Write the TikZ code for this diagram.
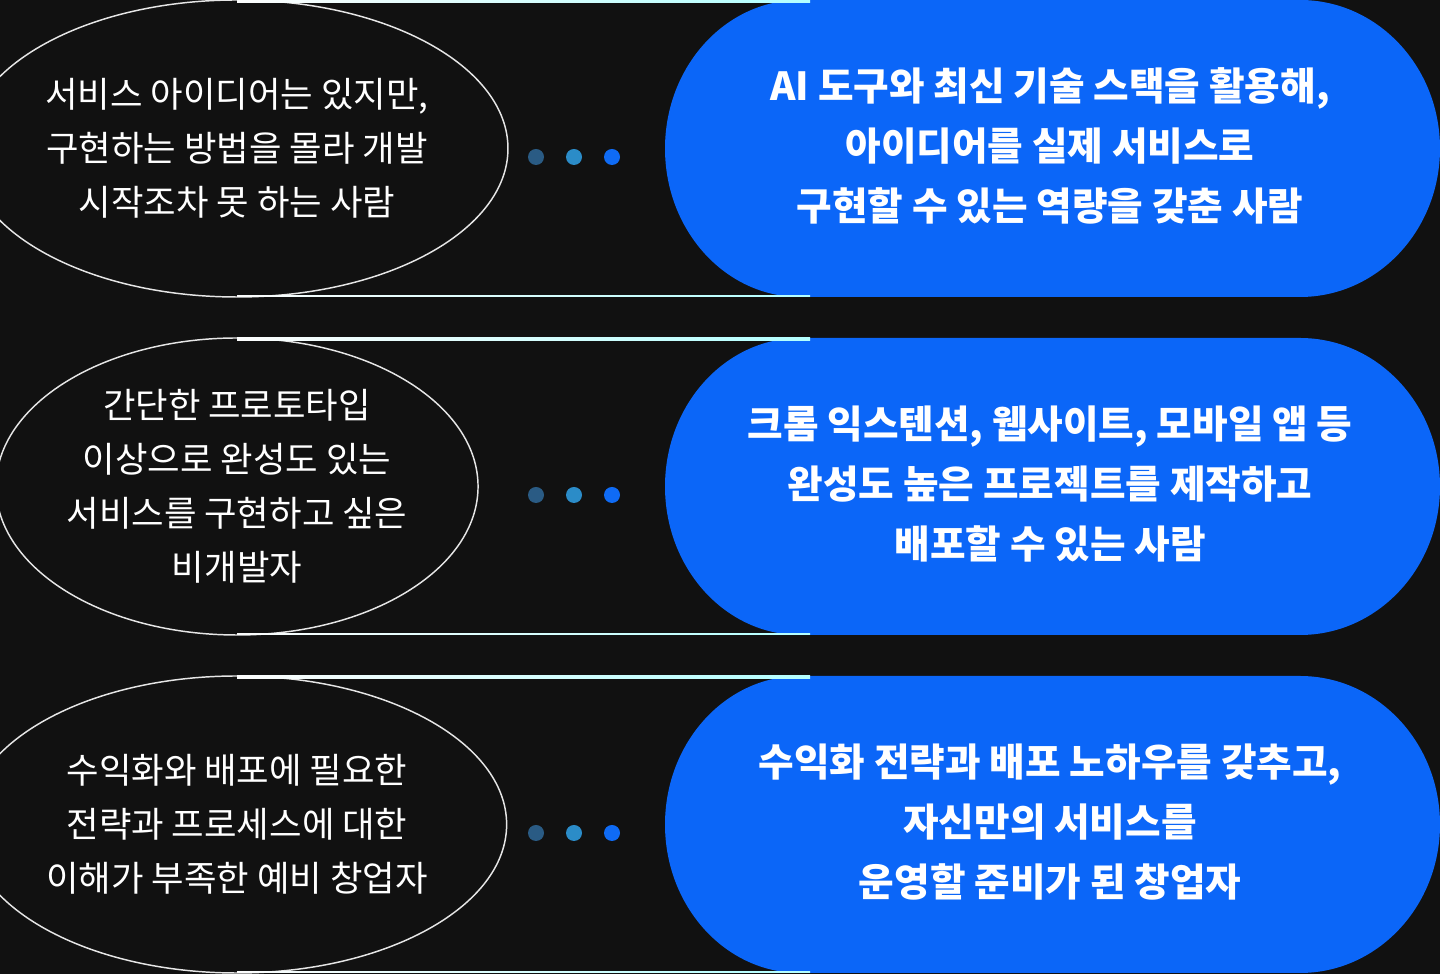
\documentclass[tikz,border=0pt]{standalone}
\usepackage{fontspec}
\setmainfont{Noto Sans CJK KR}
\usetikzlibrary{shapes.geometric}
\definecolor{bg}{HTML}{111111}
\definecolor{blu}{HTML}{0B66F8}
\definecolor{rim}{HTML}{E6E6E6}
\definecolor{dotA}{HTML}{2A5B84}
\definecolor{dotB}{HTML}{2B8CC8}
\definecolor{dotC}{HTML}{0F6BF5}
\tikzset{
  need/.style={ellipse, draw=rim, line width=1.1pt, minimum width=354pt, minimum height=222.75pt,
    inner sep=0pt, text=white, align=center, font=\fontsize{26.5}{40.5}\selectfont},
  goal/.style={text=white, align=center, font=\bfseries\fontsize{29}{45}\selectfont},
  bead/.style={circle, fill=#1, minimum size=12pt, inner sep=0pt}
}
\begin{document}
\begin{tikzpicture}[x=0.75pt, y=0.75pt]
\fill[bg] (0,0) rectangle (1440,974);
\useasboundingbox (0,0) rectangle (1440,974);
\foreach \i/\top/\lt/\rt in {
  1/974/{서비스 아이디어는 있지만,\\구현하는 방법을 몰라 개발\\시작조차 못 하는 사람}/{AI 도구와 최신 기술 스택을 활용해,\\아이디어를 실제 서비스로\\구현할 수 있는 역량을 갖춘 사람},
  2/636/{간단한 프로토타입\\이상으로 완성도 있는\\서비스를 구현하고 싶은\\비개발자}/{크롬 익스텐션, 웹사이트, 모바일 앱 등\\완성도 높은 프로젝트를 제작하고\\배포할 수 있는 사람},
  3/298/{수익화와 배포에 필요한\\전략과 프로세스에 대한\\이해가 부족한 예비 창업자}/{수익화 전략과 배포 노하우를 갖추고,\\자신만의 서비스를\\운영할 준비가 된 창업자}} {
  % blue stadium
  \fill[blu] (800,\top) -- (1300,\top)
    arc[start angle=90, end angle=-90, x radius=140, y radius=148.5]
    -- (800,\top-297)
    arc[start angle=270, end angle=90, x radius=135, y radius=148.5] -- cycle;
  \coordinate (t\i) at (810,\top-1);
  \coordinate (b\i) at (810,\top-296);
  \node[need] (l\i) at (237,\top-148.5) {\lt};
  \node[goal] (r\i) at (1050,\top-146) {\rt};
  \shade[left color=white!90!rim, right color=cyan!30!white] (l\i.north) rectangle ([yshift=-1.2pt]t\i);
  \shade[left color=white!90!rim, right color=cyan!30!white] ([yshift=1.2pt]l\i.south) rectangle (b\i);
  \node[bead=dotA] (d\i a) at (536,\top-157) {};
  \node[bead=dotB] (d\i b) at (574,\top-157) {};
  \node[bead=dotC] (d\i c) at (612,\top-157) {};
}
\end{tikzpicture}
\end{document}
